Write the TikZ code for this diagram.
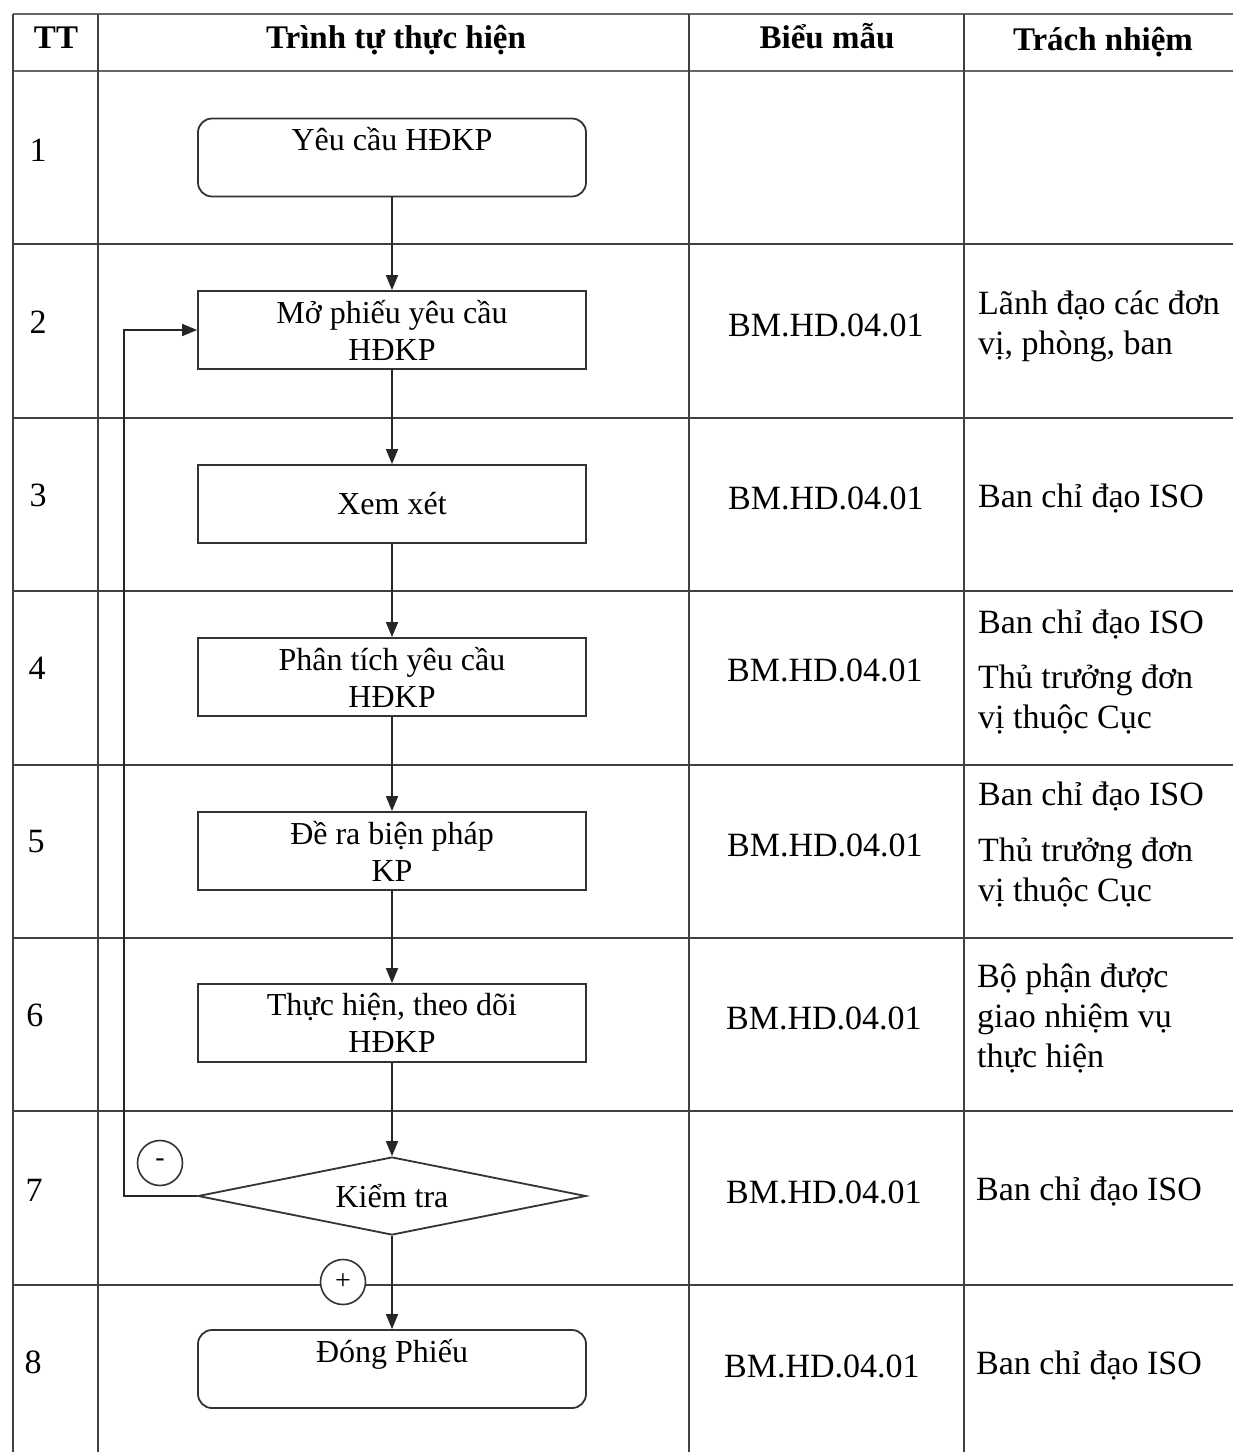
\documentclass[tikz,border=0pt]{standalone}
\usepackage{fontspec}
\setmainfont{Liberation Serif}
\usetikzlibrary{shapes.geometric,arrows.meta}
\begin{document}
\begin{tikzpicture}[x=1pt,y=-1pt,
 grid/.style={line width=1.6pt,draw=black!75},
 thickgrid/.style={line width=2.6pt,draw=black!60},
 procbox/.style={draw=black!80,line width=1.8pt,minimum width=388pt,minimum height=78pt,inner sep=0pt,align=center,font=\fontsize{32}{37}\selectfont},
 termbox/.style={procbox,rounded corners=14pt},
 decbox/.style={diamond,procbox,aspect=5},
 arr/.style={draw=black!85,line width=1.6pt,-{Triangle[length=15pt,width=12pt]}},
 celltxt/.style={font=\fontsize{34}{40}\selectfont,inner sep=0pt,align=center},
 resp/.style={font=\fontsize{34}{40}\selectfont,inner sep=0pt,anchor=west,align=left},
 hdr/.style={font=\bfseries\fontsize{33}{38}\selectfont,inner sep=0pt,anchor=base},
 sign/.style={circle,draw=black!80,line width=1.6pt,minimum size=45pt,inner sep=0pt,fill=white,font=\fontsize{28}{30}\selectfont}
]
\useasboundingbox[fill=white] (0,0) rectangle (1233,1452);

% table grid
\draw[thickgrid] (13,14) -- (1233,14);
\draw[thickgrid] (13,71) -- (1233,71);
\foreach \yy in {244,418,591,765,938,1111,1285}{
  \draw[grid] (13,\yy) -- (1233,\yy);
}
\foreach \xx in {13,98,689,964}{
  \draw[grid] (\xx,14) -- (\xx,1452);
}

% header
\node[hdr] (h1) at (56,48) {TT};
\node[hdr] (h2) at (396,48) {Trình tự thực hiện};
\node[hdr] (h3) at (827,48) {Biểu mẫu};
\node[hdr] (h4) at (1103,50) {Trách nhiệm};

% row numbers
\node[celltxt] (n1) at (38,150) {1};
\node[celltxt] (n2) at (38,322) {2};
\node[celltxt] (n3) at (38,495) {3};
\node[celltxt] (n4) at (37,668) {4};
\node[celltxt] (n5) at (36,842) {5};
\node[celltxt] (n6) at (35,1015) {6};
\node[celltxt] (n7) at (34,1190) {7};
\node[celltxt] (n8) at (33,1362) {8};

% flow
\node[termbox] (b1) at (392,157.5) {Yêu cầu HĐKP\\ \mbox{}};
\node[procbox] (b2) at (392,330) {Mở phiếu yêu cầu\\HĐKP};
\node[procbox] (b3) at (392,504) {Xem xét};
\node[procbox] (b4) at (392,677) {Phân tích yêu cầu\\HĐKP};
\node[procbox] (b5) at (392,851) {Đề ra biện pháp\\KP};
\node[procbox] (b6) at (392,1023) {Thực hiện, theo dõi\\HĐKP};
\node[decbox] (d7) at (392,1196) {Kiểm tra};
\node[termbox] (b8) at (392,1369) {Đóng Phiếu\\ \mbox{}};

\draw[arr] (b1) -- (b2);
\draw[arr] (b2) -- (b3);
\draw[arr] (b3) -- (b4);
\draw[arr] (b4) -- (b5);
\draw[arr] (b5) -- (b6);
\draw[arr] (b6) -- (d7);
\draw[arr] (d7) -- (b8);

\coordinate (fbA) at (124,1196);
\coordinate (fbB) at (124,330);
\draw[arr] (d7.west) -- (fbA) -- (fbB) -- (b2.west);

\node[sign] (minus) at (160,1163) {-};
\node[sign] (plus) at (343,1282) {+};

% forms column
\node[celltxt] (f2) at (826,325) {BM.HD.04.01};
\node[celltxt] (f3) at (826,498) {BM.HD.04.01};
\node[celltxt] (f4) at (825,670) {BM.HD.04.01};
\node[celltxt] (f5) at (825,845) {BM.HD.04.01};
\node[celltxt] (f6) at (824,1018) {BM.HD.04.01};
\node[celltxt] (f7) at (824,1192) {BM.HD.04.01};
\node[celltxt] (f8) at (822,1366) {BM.HD.04.01};

% responsibility column
\node[resp] (r2) at (978,326) {Lãnh đạo các đơn\\vị, phòng, ban};
\node[resp] (r3) at (978,499) {Ban chỉ đạo ISO};
\node[resp] (r4a) at (978,625) {Ban chỉ đạo ISO};
\node[resp] (r4b) at (978,700) {Thủ trưởng đơn\\vị thuộc Cục};
\node[resp] (r5a) at (978,797) {Ban chỉ đạo ISO};
\node[resp] (r5b) at (978,873) {Thủ trưởng đơn\\vị thuộc Cục};
\node[resp] (r6) at (977,1018) {Bộ phận được\\giao nhiệm vụ\\thực hiện};
\node[resp] (r7) at (976,1192) {Ban chỉ đạo ISO};
\node[resp] (r8) at (976,1366) {Ban chỉ đạo ISO};
\end{tikzpicture}
\end{document}
